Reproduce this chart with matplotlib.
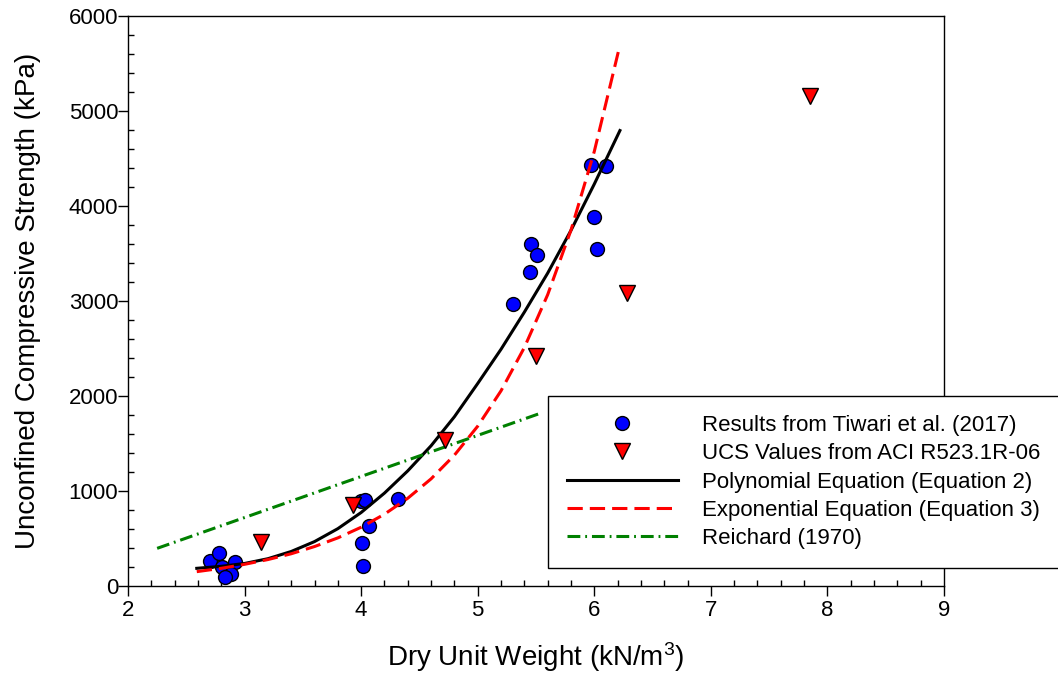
import matplotlib
matplotlib.use("Agg")
import matplotlib.pyplot as plt

plt.rcParams['font.family'] = ['Liberation Sans', 'DejaVu Sans']
plt.rcParams['mathtext.default'] = 'regular'

# Results from Tiwari et al. (2017)
tiwari_x = [2.70, 2.78, 2.81, 2.92, 2.88, 2.83,
            4.00, 4.03, 4.32, 4.07, 4.01, 4.02,
            5.97, 6.10, 6.00, 6.02, 5.46, 5.51, 5.45, 5.30]
tiwari_y = [266, 344, 203, 256, 126, 92,
            897, 905, 915, 634, 455, 210,
            4428, 4417, 3881, 3544, 3594, 3481, 3299, 2966]

# UCS values from ACI R523.1R-06
aci_x = [3.14, 3.93, 4.72, 5.50, 6.28, 7.85]
aci_y = [466, 852, 1536, 2419, 3085, 5150]

# Polynomial equation (Equation 2)
poly_x = [2.59, 2.8, 3.0, 3.2, 3.4, 3.6, 3.8, 4.0, 4.2, 4.4,
          4.6, 4.8, 5.0, 5.2, 5.4, 5.6, 5.8, 6.0, 6.22]
poly_y = [186, 207, 237, 287, 363, 467, 603, 773, 977, 1211,
          1475, 1780, 2130, 2490, 2880, 3290, 3740, 4227, 4790]

# Exponential equation (Equation 3)
expo_x = [2.59, 2.8, 3.0, 3.2, 3.4, 3.6, 3.8, 4.0, 4.2, 4.4,
          4.6, 4.8, 5.0, 5.2, 5.4, 5.6, 5.8, 6.0, 6.21]
expo_y = [151, 186, 228, 278, 339, 415, 506, 618, 755, 923,
          1127, 1376, 1681, 2053, 2508, 3063, 3742, 4570, 5638]

# Reichard (1970)
reich_x = [2.25, 3.0, 4.0, 5.0, 5.52]
reich_y = [396, 720, 1152, 1584, 1809]

fig = plt.figure(figsize=(10.58, 6.90), dpi=100)
ax = fig.add_axes([128 / 1058, 1 - 586 / 690, (944 - 128) / 1058, (586 - 15.5) / 690])

h1, = ax.plot(tiwari_x, tiwari_y, 'o', color='#0000FF', markeredgecolor='black',
              markeredgewidth=1.0, markersize=10, linestyle='none', zorder=2,
              label='Results from Tiwari et al. (2017)')
h3, = ax.plot(poly_x, poly_y, color='black', lw=2.2, zorder=3,
              label='Polynomial Equation (Equation 2)')
h4, = ax.plot(expo_x, expo_y, color='#FF0000', lw=2.2, dashes=(5.0, 2.3), zorder=3,
              label='Exponential Equation (Equation 3)')
h5, = ax.plot(reich_x, reich_y, color='#008000', lw=2.2, dashes=(4.2, 1.6, 0.6, 1.6), zorder=3,
              label='Reichard (1970)')
h2, = ax.plot(aci_x, aci_y, 'v', color='#FF0000', markeredgecolor='black',
              markeredgewidth=1.0, markersize=11, linestyle='none', zorder=4,
              label='UCS Values from ACI R523.1R-06')

ax.set_xlim(2, 9)
ax.set_ylim(0, 6000)
ax.set_xticks(range(2, 10))
ax.set_yticks(range(0, 7000, 1000))
ax.set_xticks([2 + 0.2 * i for i in range(36)], minor=True)
ax.set_yticks(range(0, 6001, 200), minor=True)
ax.tick_params(which='major', direction='out', length=7, width=1.0, labelsize=16)
ax.tick_params(axis='x', which='major', pad=3)
ax.tick_params(axis='y', which='major', pad=0)
ax.tick_params(which='minor', direction='in', length=4, width=1.0)
for s in ax.spines.values():
    s.set_linewidth(1.0)

ax.set_xlabel('Dry Unit Weight (kN/m$^3$)', fontsize=20, labelpad=14)
ax.set_ylabel('Unconfined Compressive Strength (kPa)', fontsize=20, labelpad=20)

leg = ax.legend(handles=[h1, h2, h3, h4, h5], loc='upper left',
                bbox_to_anchor=(548 / 1058, 1 - 396 / 690), bbox_transform=fig.transFigure,
                borderaxespad=0, fontsize=16, numpoints=1, handlelength=5.0,
                handletextpad=1.1, labelspacing=0.33, borderpad=0.85,
                fancybox=False, framealpha=1, edgecolor='black')
leg.get_frame().set_linewidth(1.0)

fig.savefig('out.png', dpi=100)
